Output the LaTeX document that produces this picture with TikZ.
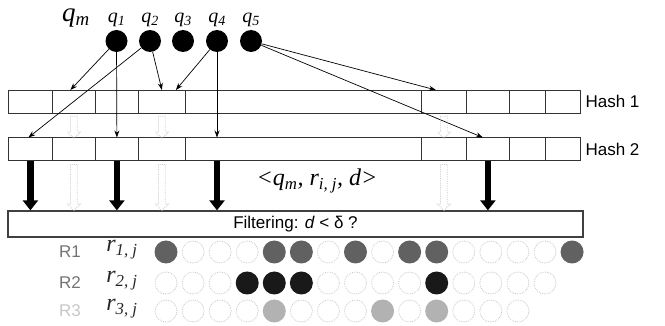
\documentclass[tikz,border=0pt]{standalone}
\usepackage{fontspec}
\setmainfont{Liberation Sans}
\newfontfamily\tnr{Liberation Serif}
\usetikzlibrary{arrows.meta,shapes.arrows,calc}
\begin{document}
\begin{tikzpicture}[x=1pt,y=-1pt,
  qdot/.style={circle,fill=black,inner sep=0pt,minimum size=22pt},
  qlab/.style={font=\tnr\itshape\fontsize{20}{20}\selectfont},
  cell/.style={draw=black!80,line width=0.8pt,inner sep=0pt,minimum height=23pt},
  thinarrow/.style={-{Stealth[length=7pt,width=5pt]},line width=0.7pt},
  thickarrow/.style={line width=6.5pt,-{Triangle[length=10pt,width=15pt]}},
  ghost/.style={single arrow,draw=black!20,densely dotted,line width=0.8pt,rotate=-90,
    inner sep=3pt,single arrow head extend=3pt,shape border uses incircle=false},
  hashlab/.style={anchor=west,font=\fontsize{17}{17}\selectfont},
  emptydot/.style={circle,draw=black!22,densely dotted,line width=0.8pt,inner sep=0pt,minimum size=22pt},
  dotA/.style={circle,fill=black!62,inner sep=0pt,minimum size=23pt},
  dotB/.style={circle,fill=black!90,inner sep=0pt,minimum size=23pt},
  dotC/.style={circle,fill=black!30,inner sep=0pt,minimum size=23pt},
  rlab/.style={font=\fontsize{17}{17}\selectfont},
  rvar/.style={font=\tnr\itshape\fontsize{24}{24}\selectfont,text=black!85}
]
\useasboundingbox (0,0) rectangle (665,326);

% query points
\node[qlab,font=\tnr\itshape\fontsize{27}{27}\selectfont] (qm) at (76,18) {q\textsubscript{m}};
\foreach \k/\x in {1/116.5,2/150,3/183,4/217,5/251}{
  \node[qdot] (q\k) at (\x,41) {};
  \node[qlab] (ql\k) at (\x,20) {q\textsubscript{\k}};
}

% hash tables
\foreach \n/\l/\r in {a/8/52,b/52/95,c/95/138,d/138/185,e/185/421,f/421/466,g/466/509,h/509/545,i/545/580}{
  \node[cell,minimum width={(\r-\l)*1pt},anchor=north west] (h1\n) at (\l,90) {};
  \node[cell,minimum width={(\r-\l)*1pt},anchor=north west] (h2\n) at (\l,137.5) {};
}
\node[hashlab] (hl1) at (582,101.5) {Hash 1};
\node[hashlab] (hl2) at (582,149) {Hash 2};

% filter box
\node[draw=black!75,line width=1.3pt,minimum width=575pt,minimum height=26pt,inner sep=0pt,
  font=\fontsize{17}{17}\selectfont] (filt) at (295.5,224) {Filtering: \textit{d} <\ δ ?};

% thin arrows
\draw[thinarrow] (q1) -- ([xshift=-3.5pt]h1b.north);
\draw[thinarrow] (q1) -- (h2c.north);
\draw[thinarrow] (q2) -- ([xshift=-2pt]h2a.north);
\draw[thinarrow] (q2) -- (h1d.north);
\draw[thinarrow] (q4) -- ([xshift=14pt]h1d.north);
\draw[thinarrow] (q4) -- (q4 |- h2e.north);
\draw[thinarrow] (q5) -- ([xshift=-8pt]h1f.north);
\draw[thinarrow] (q5) -- ([xshift=-5pt]h2g.north);

% ghost arrows
\foreach \c in {b,d,f}{
  \node[ghost,minimum height=22pt] (ga\c) at ($(h1\c.south)!0.5!(h2\c.north)$) {};
  \node[ghost,minimum height=46pt] (gb\c) at ($(h2\c.south)!0.5!(h2\c.south |- filt.north)$) {};
}

% thick arrows
\draw[thickarrow] (h2a.south) -- (h2a.south |- filt.north);
\draw[thickarrow] (h2c.south) -- (h2c.south |- filt.north);
\draw[thickarrow] (q4 |- h2e.south) -- (q4 |- filt.north);
\draw[thickarrow] (h2g.south) -- (h2g.south |- filt.north);

% tuple label
\node[font=\tnr\itshape\fontsize{24}{24}\selectfont] (tup) at (317,181)
  {<q\textsubscript{m}, r\textsubscript{i, j}, d>};

% result rows
\node[rlab,text=black!55] (R1) at (70,252) {R1};
\node[rlab,text=black!55] (R2) at (70,283) {R2};
\node[rlab,text=black!22] (R3) at (70,311) {R3};
\node[rvar] (v1) at (122,250) {r\textsubscript{1, j}};
\node[rvar] (v2) at (122,281) {r\textsubscript{2, j}};
\node[rvar] (v3) at (122,309) {r\textsubscript{3, j}};

\foreach \i in {1,2,3,6,8,11,12,13,14}{\node[emptydot] (ae\i) at (166+27.07*\i,252) {};}
\foreach \i in {0,4,5,7,9,10,15}{\node[dotA] (af\i) at (166+27.07*\i,252) {};}
\foreach \i in {0,1,2,6,7,8,9,11,12,13,14}{\node[emptydot] (be\i) at (166+27.07*\i,283) {};}
\foreach \i in {3,4,5,10}{\node[dotB] (bf\i) at (166+27.07*\i,283) {};}
\foreach \i in {0,1,2,3,5,6,7,9,11,12,13}{\node[emptydot] (ce\i) at (166+27.07*\i,311) {};}
\foreach \i in {4,8,10}{\node[dotC] (cf\i) at (166+27.07*\i,311) {};}
\end{tikzpicture}
\end{document}
